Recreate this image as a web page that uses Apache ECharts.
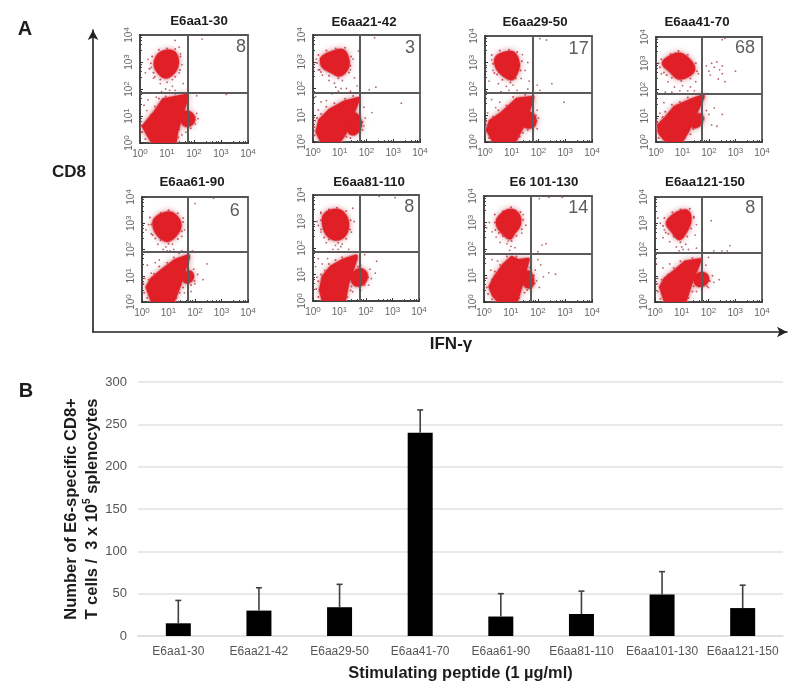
<!DOCTYPE html>
<html>
<head>
<meta charset="utf-8">
<script src="https://cdn.jsdelivr.net/npm/echarts@6/dist/echarts.min.js"></script>
<style>
  html, body { margin: 0; padding: 0; background: #fff; }
  #chart { width: 800px; height: 691px; }
</style>
</head>
<body>
<div id="chart"></div>
<script>
// panel B
var peptides = ["E6aa1-30", "E6aa21-42", "E6aa29-50", "E6aa41-70", "E6aa61-90", "E6aa81-110", "E6aa101-130", "E6aa121-150"];
var spotCounts = [15, 30, 34, 240, 23, 26, 49, 33];
var spotErrorTops = [42, 57, 61, 267, 50, 53, 76, 60];

// panel A, all flow values are in decades (log10 of fluorescence)
var panelTitles = ["E6aa1-30", "E6aa21-42", "E6aa29-50", "E6aa41-70", "E6aa61-90", "E6aa81-110", "E6 101-130", "E6aa121-150"];
var quadrantCounts = [8, 3, 17, 68, 6, 8, 14, 8];
var countPositions = [[3.74, 3.55], [3.63, 3.5], [3.5, 3.52], [3.36, 3.58], [3.5, 3.46], [3.63, 3.53], [3.49, 3.54], [3.56, 3.57]];
var gateX = [1.78, 1.76, 1.79, 1.74, 1.74, 1.77, 1.74, 1.76];
var gateY = [1.85, 1.83, 1.85, 1.83, 1.9, 1.85, 1.81, 1.87];

// outlines of the solid red populations
var cd8Populations = [
  [[0.62,3.17],[0.86,3.37],[1.23,3.37],[1.38,3.12],[1.36,2.81],[1.17,2.54],[0.93,2.44],[0.68,2.63],[0.56,2.88]],
  [[0.38,3.19],[0.69,3.34],[1.13,3.41],[1.31,3.06],[1.27,2.75],[1,2.5],[0.69,2.63],[0.38,2.81],[0.31,3.06]],
  [[0.41,3.15],[0.69,3.34],[1.06,3.36],[1.25,2.96],[1.19,2.65],[1,2.38],[0.69,2.53],[0.46,2.78]],
  [[0.4,3.16],[0.84,3.35],[1.21,3.16],[1.43,2.78],[1.21,2.53],[0.84,2.44],[0.53,2.72],[0.28,2.97]],
  [[0.5,3.16],[0.94,3.39],[1.25,3.29],[1.44,2.91],[1.25,2.53],[0.94,2.34],[0.63,2.53],[0.46,2.85]],
  [[0.44,3.25],[0.88,3.42],[1.19,3.25],[1.31,2.87],[1.19,2.49],[0.88,2.33],[0.56,2.49],[0.4,2.87]],
  [[0.59,3.23],[0.96,3.46],[1.27,3.29],[1.31,2.91],[1.09,2.59],[0.96,2.41],[0.65,2.66],[0.49,2.97]],
  [[0.54,3.16],[0.81,3.38],[1.19,3.46],[1.31,3.1],[1.13,2.66],[0.91,2.41],[0.63,2.72],[0.46,2.97]]
];
var negPopulations = [
  [[1.73,1.77],[0.86,1.6],[0.56,1.15],[0.12,0.62],[0.31,0.28],[0.47,0.02],[1.3,0.02],[1.36,0.41],[1.54,1.02],[1.73,1.64]],
  [[1.69,1.63],[1.19,1.5],[0.63,1.19],[0.25,0.81],[0.15,0.38],[0.31,0.04],[1,0.04],[1.19,0.31],[1.44,0.94],[1.69,1.56]],
  [[1.79,1.69],[1.19,1.61],[0.63,1.09],[0.19,0.78],[0.09,0.46],[0.31,0.05],[1.13,0.05],[1.44,0.65],[1.75,1.53]],
  [[1.78,1.77],[1.28,1.58],[0.71,1.33],[0.4,0.95],[0.09,0.63],[0.15,0.32],[0.4,0.02],[0.96,0.02],[1.21,0.44],[1.46,1.01],[1.78,1.71]],
  [[1.75,1.77],[1.25,1.58],[0.75,1.2],[0.38,0.89],[0.19,0.57],[0.38,0.04],[1.19,0.04],[1.44,0.7],[1.75,1.68]],
  [[1.63,1.7],[1.13,1.54],[0.69,1.29],[0.38,0.91],[0.28,0.41],[0.38,0.03],[1.19,0.03],[1.31,0.66],[1.63,1.61]],
  [[1.02,1.68],[0.72,1.39],[0.41,0.95],[0.22,0.57],[0.35,0.25],[0.53,0.04],[1.21,0.04],[1.4,0.7],[1.64,1.61],[1.27,1.56]],
  [[1.69,1.61],[1.13,1.52],[0.69,1.14],[0.38,0.89],[0.21,0.57],[0.38,0.04],[1.13,0.04],[1.38,0.82],[1.66,1.52]]
];
var sidePopulations = [
  [[1.57,1.02],[1.73,1.15],[1.95,1.02],[1.98,0.81],[1.79,0.65],[1.6,0.72]],
  [[1.31,0.69],[1.5,1.06],[1.69,0.94],[1.78,0.63],[1.56,0.31],[1.35,0.38]],
  [[1.46,0.9],[1.63,1.09],[1.84,0.96],[1.84,0.65],[1.63,0.56],[1.46,0.65]],
  [[1.53,1.01],[1.71,1.01],[1.71,0.76],[1.46,0.57],[1.34,0.7]],
  [[1.56,1.01],[1.81,1.14],[1.91,0.95],[1.75,0.76],[1.59,0.82]],
  [[1.5,0.97],[1.75,1.19],[2,1.04],[1.94,0.72],[1.69,0.59],[1.5,0.72]],
  [[1.46,0.89],[1.64,1.14],[1.8,0.89],[1.73,0.57],[1.52,0.63]],
  [[1.5,0.95],[1.75,1.1],[1.96,0.95],[1.88,0.7],[1.63,0.63],[1.5,0.76]]
];
// single events away from the solid populations
var sparseEvents = [
  [[0.3,3.1],[0.42,2.8],[0.2,2.6],[0.5,2.4],[0.75,2.2],[1,2.25],[1.2,2.35],[1.45,2.6],[1.55,2.9],[0.95,2],[1.1,1.95],[1.2,2.1],[0.8,1.9],[1.3,1.95],[1.6,2.2],[1.45,3.55],[1.5,3.3],[0.15,1.4],[0.3,1.6],[0.25,1.2],[0.6,1.7],[2.1,1.1],[2.15,0.9],[2.05,0.7],[1.7,0.4],[1.55,0.3],[2.1,1.75],[3.2,1.8],[2.3,3.85],[1.3,3.8]],
  [[0.12,3.1],[0.2,2.7],[0.35,2.5],[0.6,2.3],[0.8,2.2],[1.1,2.3],[1.4,2.7],[1.55,2.4],[1.5,3.1],[0.95,1.9],[1.05,2],[0.85,2.05],[1.25,2],[1.4,1.9],[0.3,1.5],[0.2,1.2],[0.5,1.55],[0.1,1.7],[0.08,0.8],[1.95,0.9],[1.9,1.3],[1.9,0.6],[2.2,1.1],[2.1,1.95],[2.35,2.05],[2.3,3.9],[3.3,1.45],[1.7,3.4],[1.65,2.1],[0.7,1.8]],
  [[0.25,3.1],[0.3,2.7],[0.15,2.3],[0.5,2.2],[0.8,2.1],[1.05,2.15],[1.35,2.4],[1.5,2.7],[1.6,3],[1.4,3.3],[0.9,1.95],[1.2,1.95],[0.6,1.9],[1.6,2],[1.65,2.3],[1.95,2.15],[0.25,1.6],[0.4,1.3],[0.1,1.1],[0.55,1.5],[1.95,1.2],[2,0.9],[1.95,0.5],[1.8,1.75],[2.05,1.95],[2.5,2.2],[2.95,1.5],[2.3,3.85],[2.05,3.9],[1.2,0.3]],
  [[0.1,3],[0.2,2.6],[0.45,2.3],[0.7,2.1],[1,2.15],[1.3,2.1],[1.5,2.3],[1.6,2.6],[0.9,1.95],[1.2,1.95],[1.45,1.95],[0.6,1.9],[0.35,1.9],[1.9,2.9],[2,2.7],[2.1,3],[2.2,2.85],[2.3,3.05],[2.4,2.75],[2.5,2.9],[2.5,2.6],[2.35,2.4],[2.6,2.3],[3,2.7],[2.05,2.55],[2.2,1.3],[1.9,1.2],[2.5,1.05],[2.1,0.65],[2.3,0.6],[2,1.05],[0.15,1.1],[0.3,1.5],[2.6,3.95],[2.5,3.9]],
  [[0.25,2.95],[0.35,2.6],[0.15,2.75],[0.6,2.2],[0.9,2.1],[1.15,2.2],[1.5,2.5],[1.6,2.75],[1.55,3.2],[0.95,1.95],[1.05,1.95],[0.8,2],[1.2,2],[1.5,1.95],[1.9,1.95],[2.45,1.45],[0.2,1.4],[0.35,1.1],[0.1,0.9],[0.5,1.5],[2.1,1.05],[2,0.7],[1.95,1.25],[2.3,0.85],[2,3.75],[2.7,3.95],[1.6,0.35],[1.85,0.4],[1.4,1.85],[0.65,1.6]],
  [[0.3,3.3],[0.15,3],[0.3,2.6],[0.2,2.85],[0.5,2.2],[0.85,2.1],[1.1,2.15],[1.45,2.6],[1.55,3],[0.95,1.95],[1.05,2.05],[0.75,1.95],[1.35,1.95],[0.2,1.6],[0.35,1.4],[0.1,1.3],[0.15,0.9],[0.55,1.6],[2.15,1.2],[2.2,0.85],[2.1,0.6],[1.8,0.4],[2.35,1.05],[2.4,1.5],[1.95,1.75],[1.8,1.35],[2.5,3.95],[3.1,3.9],[1.5,3.5],[1.5,0.35]],
  [[0.2,3],[0.1,2.8],[0.3,2.65],[0.45,2.45],[0.6,2.25],[0.85,2.2],[1,2.1],[1.15,2.05],[0.95,1.95],[1.4,2.6],[1.55,2.9],[1.45,3.3],[0.9,2.3],[0.3,1.6],[0.25,1.2],[0.1,0.9],[0.5,1.55],[1.9,1.2],[1.95,0.8],[2.05,0.55],[2.2,0.95],[1.75,0.35],[2,1.9],[2.15,2.15],[2.3,2.2],[2,1.6],[2.1,1.4],[2.4,1.1],[2.65,1.05],[2.05,3.9],[2.4,3.95],[2.9,3.95]],
  [[0.2,3],[0.1,3.2],[0.35,2.75],[0.3,2.45],[0.55,2.3],[0.8,2.1],[1,2.1],[1.15,2.2],[1.5,2.55],[1.55,2.95],[1.45,3.2],[0.9,1.95],[1.05,2],[1.25,2],[1.55,2.05],[2.1,3.1],[2.8,2.15],[2.2,1.95],[2.5,1.95],[2.7,1.95],[0.05,1.45],[0.3,1.3],[0.1,0.9],[0.55,1.45],[2.15,1],[2.2,0.75],[2,0.55],[1.9,1.4],[2,1.7],[1.55,0.4],[2.4,0.85]]
];
// speckle hugging the edge of the solid populations
var fringeEvents = [
  [[0.45,3.2],[0.5,2.6],[0.4,2.95],[0.7,3.45],[1,3.5],[1.3,3.48],[1.5,3.2],[1.48,2.7],[1.3,2.45],[0.75,2.35],[0.55,2.45],[0.35,2.75],[0.05,0.65],[0.08,0.4],[0.2,0.15],[0.25,0.8],[0.4,1.05],[0.55,1.35],[0.7,1.65],[0.95,1.72],[1.3,1.82],[1.45,0.5],[1.42,0.2],[1.5,0.85],[1.88,0.55],[2.02,0.95]],
  [[0.2,3.25],[0.15,2.95],[0.25,2.7],[0.5,3.42],[0.85,3.5],[1.2,3.52],[1.42,3.2],[1.4,2.85],[1.35,2.6],[0.95,2.38],[0.6,2.48],[0.3,2.62],[0.05,0.55],[0.06,0.25],[0.15,0.9],[0.3,1.05],[0.5,1.32],[0.8,1.45],[1.2,1.62],[1.5,1.72],[1.25,0.2],[1.4,0.15],[1.85,0.75],[1.85,0.45],[1.75,1.1],[1.55,1.2]],
  [[0.25,3.28],[0.3,2.95],[0.35,2.6],[0.55,3.45],[0.9,3.48],[1.2,3.4],[1.38,3.05],[1.33,2.7],[1.15,2.4],[0.95,2.25],[0.65,2.35],[0.45,2.55],[0.04,0.8],[0.03,0.4],[0.15,0.15],[0.3,0.95],[0.5,1.2],[0.8,1.38],[1.05,1.7],[1.5,1.78],[1.3,0.2],[1.42,0.35],[1.6,0.45],[1.92,0.8],[1.9,1],[1.55,1.15]],
  [[0.2,3.15],[0.15,2.85],[0.3,2.65],[0.55,3.35],[0.85,3.47],[1.2,3.32],[1.5,3],[1.55,2.7],[1.3,2.42],[0.95,2.32],[0.6,2.45],[0.4,2.55],[0.04,0.75],[0.03,0.4],[0.1,0.15],[0.25,0.95],[0.35,1.15],[0.6,1.42],[0.9,1.52],[1.2,1.7],[1.1,0.15],[1.3,0.3],[1.4,0.5],[1.8,0.9],[1.62,0.6],[1.55,1.15]],
  [[0.3,3.22],[0.35,2.95],[0.4,2.55],[0.7,3.4],[1,3.5],[1.35,3.38],[1.55,3.05],[1.5,2.7],[1.35,2.4],[1,2.22],[0.7,2.35],[0.5,2.42],[0.05,0.7],[0.08,0.35],[0.2,0.15],[0.25,0.85],[0.45,1.08],[0.65,1.35],[0.95,1.5],[1.2,1.7],[1.3,0.15],[1.42,0.35],[1.55,0.55],[1.98,0.8],[1.85,0.65],[1.55,1.2]],
  [[0.3,3.35],[0.3,3.05],[0.3,2.7],[0.6,3.45],[0.9,3.52],[1.25,3.4],[1.42,3.05],[1.4,2.7],[1.25,2.35],[0.95,2.2],[0.6,2.32],[0.42,2.4],[0.2,0.75],[0.12,0.45],[0.2,0.15],[0.3,1],[0.45,1.15],[0.6,1.4],[0.85,1.55],[1.1,1.65],[1.3,0.15],[1.42,0.4],[1.45,0.55],[2.08,0.9],[1.95,0.6],[1.7,1.3]],
  [[0.4,3.3],[0.4,3],[0.42,2.72],[0.7,3.42],[1,3.58],[1.35,3.4],[1.45,3.1],[1.4,2.75],[1.2,2.5],[1.02,2.3],[0.7,2.48],[0.55,2.6],[0.1,0.55],[0.15,0.3],[0.3,0.1],[0.3,0.85],[0.4,1.15],[0.6,1.4],[0.85,1.72],[1.2,1.72],[1.3,0.15],[1.5,0.35],[1.6,0.45],[1.88,0.7],[1.85,1],[1.7,1.3]],
  [[0.35,3.2],[0.3,2.9],[0.4,2.65],[0.65,3.42],[0.95,3.52],[1.3,3.55],[1.45,3.25],[1.35,2.8],[1.2,2.5],[0.95,2.28],[0.7,2.5],[0.5,2.6],[0.08,0.7],[0.1,0.4],[0.2,0.12],[0.25,0.85],[0.5,1.05],[0.7,1.3],[0.95,1.55],[1.4,1.68],[1.25,0.15],[1.4,0.4],[1.45,0.6],[2.05,0.8],[1.95,0.6],[1.75,1.25]]
];

// tick labels
var decadeLabels = [0, 1, 2, 3, 4];
var spotTicks = [0, 50, 100, 150, 200, 250, 300];

// pixel boxes of the 8 flow plots: left, top, width, height
var plotBoxes = [
  [140, 35, 108, 108], [313, 35, 107, 107], [485, 36, 107, 106], [656, 37, 106, 105],
  [142, 197, 106, 105], [313, 195, 106, 106], [484, 196, 108, 106], [655, 197, 107, 105]
];
var titleCentres = [[199, 21], [364, 22], [535, 22], [697, 22], [192, 182], [369, 182], [544, 182], [705, 182]];

var font = '"Liberation Sans", Arial, sans-serif';

function toLinear(p) {
  return [Math.pow(10, p[0]), Math.pow(10, p[1])];
}

// halo series sit under all the solid series so the fringes never cross a solid blob
function populationSeries(points, gridIdx, smooth, isHalo) {
  return {
    type: "custom",
    xAxisIndex: gridIdx,
    yAxisIndex: gridIdx,
    z: isHalo ? 1 : 2,
    silent: true,
    data: points.map(toLinear),
    encode: { x: 0, y: 1 },
    renderItem: function (params, api) {
      if (params.dataIndex !== 0) return null;
      var pts = points.map(function (p) { return api.coord(toLinear(p)); });
      var cs = params.coordSys;
      return {
        type: "polygon",
        shape: { points: pts, smooth: smooth },
        clipPath: { type: "rect", shape: { x: cs.x, y: cs.y, width: cs.width, height: cs.height } },
        style: isHalo
          ? { fill: "#d9707a", stroke: "rgba(215,120,130,0.55)", lineWidth: 5, lineJoin: "round", shadowBlur: 6, shadowColor: "rgba(215,130,140,0.9)" }
          : { fill: "#e01f26", stroke: "#e01f26", lineWidth: 3, lineJoin: "round" }
      };
    }
  };
}

function errorBarRender(params, api) {
  var x = api.value(0);
  var bottom = api.coord([x, api.value(1)]);
  var top = api.coord([x, api.value(2)]);
  var lineStyle = { stroke: "#404040", lineWidth: 1.6 };
  return {
    type: "group",
    children: [
      { type: "line", shape: { x1: top[0], y1: top[1], x2: bottom[0], y2: bottom[1] }, style: lineStyle },
      { type: "line", shape: { x1: top[0] - 3, y1: top[1], x2: top[0] + 3, y2: top[1] }, style: lineStyle }
    ]
  };
}

function centredTitle(text, x, y, size, weight) {
  return {
    text: text,
    left: x,
    top: y,
    padding: 0,
    textAlign: "center",
    textVerticalAlign: "middle",
    textStyle: { fontFamily: font, fontSize: size, fontWeight: weight, color: "#1c1c1c" }
  };
}

var grids = [], xAxes = [], yAxes = [], series = [], titles = [];

plotBoxes.forEach(function (box, i) {
  grids.push({ left: box[0], top: box[1], width: box[2], height: box[3], show: true, borderColor: "#555", borderWidth: 1.8, backgroundColor: "#fff" });
  var flowAxis = {
    gridIndex: i,
    type: "log",
    logBase: 10,
    min: 1,
    max: 10000,
    splitLine: { show: false },
    axisLine: { show: true, onZero: false, lineStyle: { color: "#444", width: 1.8 } },
    axisTick: { show: true, inside: true, length: 3, lineStyle: { color: "#333" } },
    minorTick: { show: true, splitNumber: 5, length: 2, lineStyle: { color: "#444" } },
    axisLabel: {
      margin: 5,
      color: "#666",
      fontFamily: font,
      fontSize: 10,
      formatter: function (v) { return "10{s|" + decadeLabels[Math.round(Math.log10(v))] + "}"; },
      rich: { s: { fontSize: 8, color: "#666", verticalAlign: "top", fontFamily: font, padding: [0, 0, 5, 0] } }
    }
  };
  xAxes.push(flowAxis);
  yAxes.push(Object.assign({}, flowAxis, { axisLabel: Object.assign({}, flowAxis.axisLabel, { rotate: 90, margin: 4 }) }));

  [true, false].forEach(function (isHalo) {
    series.push(populationSeries(cd8Populations[i], i, 0.4, isHalo));
    series.push(populationSeries(negPopulations[i], i, 0, isHalo));
    series.push(populationSeries(sidePopulations[i], i, 0.4, isHalo));
  });
  series.push({
    type: "scatter",
    xAxisIndex: i,
    yAxisIndex: i,
    z: 3,
    silent: true,
    symbolSize: 1.8,
    itemStyle: { color: "#a5424c", opacity: 0.8 },
    data: sparseEvents[i].map(toLinear)
  });
  series.push({
    type: "scatter",
    xAxisIndex: i,
    yAxisIndex: i,
    z: 3,
    silent: true,
    symbolSize: 2,
    itemStyle: { color: "#c9353f", opacity: 0.85 },
    data: fringeEvents[i].map(toLinear)
  });
  // quadrant gates and the count in the upper right quadrant
  series.push({
    type: "scatter",
    xAxisIndex: i,
    yAxisIndex: i,
    z: 4,
    silent: true,
    symbolSize: 0,
    data: [toLinear(countPositions[i])],
    label: { show: true, position: "inside", formatter: String(quadrantCounts[i]), color: "#333", fontFamily: font, fontSize: 18 },
    markLine: {
      silent: true,
      symbol: "none",
      animation: false,
      label: { show: false },
      lineStyle: { color: "#5a5a5a", type: "solid", width: 2 },
      data: [{ xAxis: Math.pow(10, gateX[i]) }, { yAxis: Math.pow(10, gateY[i]) }]
    }
  });
  titles.push(centredTitle(panelTitles[i], titleCentres[i][0], titleCentres[i][1], 13.3, "bold"));
});

// big CD8 / IFN-g arrows around panel A
grids.push({ left: 93, top: 30, width: 694, height: 302 });
xAxes.push({
  gridIndex: 8, type: "value", min: 0, max: 1,
  splitLine: { show: false }, axisTick: { show: false }, axisLabel: { show: false },
  axisLine: { show: true, symbol: ["none", "arrow"], symbolSize: [8, 10], lineStyle: { color: "#222", width: 1.6 } }
});
yAxes.push({
  gridIndex: 8, type: "value", min: 0, max: 1,
  splitLine: { show: false }, axisTick: { show: false }, axisLabel: { show: false },
  axisLine: { show: true, symbol: ["none", "arrow"], symbolSize: [8, 10], lineStyle: { color: "#222", width: 1.6 } }
});
titles.push(centredTitle("IFN-γ", 451, 344, 17, "bold"));
titles.push(centredTitle("CD8", 69, 172, 17, "bold"));

// panel B bars
grids.push({ left: 138, top: 382, width: 645, height: 254 });
xAxes.push({
  gridIndex: 9, type: "category", data: peptides,
  axisTick: { show: false },
  axisLine: { lineStyle: { color: "#ddd", width: 1.5 } },
  axisLabel: { interval: 0, color: "#555", fontFamily: font, fontSize: 12, margin: 10 },
  name: "Stimulating peptide (1 µg/ml)", nameLocation: "middle", nameGap: 29,
  nameTextStyle: { fontFamily: font, fontSize: 16.4, fontWeight: "bold", color: "#1c1c1c" }
});
yAxes.push({
  gridIndex: 9, type: "value", min: 0, max: 300, interval: 50,
  axisLine: { show: false }, axisTick: { show: false },
  splitLine: { lineStyle: { color: "#e2e2e2", width: 1.5 } },
  axisLabel: { color: "#555", fontFamily: font, fontSize: 13, margin: 11, formatter: function (v) { return String(spotTicks[v / 50]); } },
  name: "Number of E6-specific CD8+\nT cells /  3 x 10{s|5} splenocytes", nameLocation: "middle", nameGap: 35, nameMoveOverlap: false,
  nameTextStyle: {
    fontFamily: font, fontSize: 16.5, fontWeight: "bold", color: "#1c1c1c", lineHeight: 21,
    rich: { s: { fontFamily: font, fontSize: 10, fontWeight: "bold", color: "#1c1c1c", verticalAlign: "top", padding: [0, 0, 7, 0] } }
  }
});
series.push({
  type: "bar",
  xAxisIndex: 9,
  yAxisIndex: 9,
  barWidth: 25,
  itemStyle: { color: "#000" },
  data: spotCounts
});
series.push({
  type: "custom",
  xAxisIndex: 9,
  yAxisIndex: 9,
  z: 3,
  renderItem: errorBarRender,
  encode: { x: 0, y: [1, 2] },
  data: peptides.map(function (p, i) { return [i, spotCounts[i], spotErrorTops[i]]; })
});

// panel letters
titles.push(centredTitle("A", 25, 29, 20, "bold"));
titles.push(centredTitle("B", 26, 391, 20, "bold"));

var chart = echarts.init(document.getElementById("chart"), null, { renderer: "canvas" });
chart.setOption({
  animation: false,
  backgroundColor: "#fff",
  title: titles,
  grid: grids,
  xAxis: xAxes,
  yAxis: yAxes,
  series: series
});
</script>
</body>
</html>
